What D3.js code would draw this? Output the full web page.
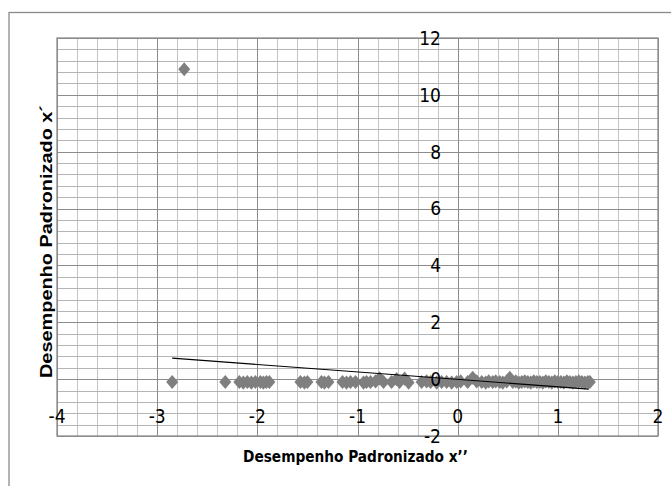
<!DOCTYPE html>
<html>
<head>
<meta charset="utf-8">
<script src="https://cdn.jsdelivr.net/npm/d3@7"></script>
<style>
  body { margin: 0; background: #fff; }
  svg { display: block; }
</style>
</head>
<body>
<div id="chart"></div>
<script>
// x'' (horizontal) and x' (vertical) standardized scores
const scoreX = [
  -2.85, -2.73, -2.32, -2.18, -2.14, -2.10, -2.06, -2.02, -1.97, -1.94, -1.91, -1.88,
  -1.57, -1.53, -1.50, -1.36, -1.33, -1.29, -1.15, -1.11, -1.07, -1.02,
  -0.94, -0.91, -0.87, -0.82, -0.78, -0.74, -0.66, -0.61, -0.58, -0.53, -0.49,
  -0.36, -0.31, -0.27, -0.21, -0.16, -0.11, -0.06, -0.01, 0.03,
  0.10, 0.15, 0.19, 0.24, 0.28, 0.31, 0.35, 0.38, 0.42, 0.45, 0.49, 0.52,
  0.55, 0.58, 0.61, 0.64, 0.67, 0.70, 0.73, 0.76, 0.79, 0.82, 0.85, 0.88,
  0.91, 0.94, 0.97, 1.00, 1.03, 1.06, 1.09, 1.12, 1.15, 1.18, 1.21, 1.24,
  1.27, 1.30, 1.32
];
const scoreY = [
  -0.10, 10.90, -0.10, -0.10, -0.12, -0.10, -0.12, -0.10, -0.10, -0.12, -0.10, -0.10,
  -0.10, -0.12, -0.10, -0.10, -0.12, -0.10, -0.10, -0.12, -0.10, -0.10,
  -0.12, -0.10, -0.10, -0.08, 0.03, -0.10, -0.10, 0.00, -0.10, 0.02, -0.12,
  -0.10, -0.08, -0.10, -0.12, -0.10, -0.10, -0.12, -0.10, -0.08,
  -0.10, 0.05, -0.08, -0.10, -0.12, -0.08, -0.10, -0.08, -0.10, -0.12, -0.08, 0.05,
  -0.10, -0.08, -0.12, -0.10, -0.08, -0.10, -0.12, -0.08, -0.10, -0.10, -0.12, -0.08,
  -0.10, -0.12, -0.08, -0.10, -0.10, -0.12, -0.08, -0.10, -0.12, -0.10, -0.08, -0.10,
  -0.12, -0.10, -0.10
];
// linear trend line end points
const trendX = [-2.85, 1.31];
const trendY = [0.74, -0.35];

const xTicks = [-4, -3, -2, -1, 0, 1, 2];
const yTicks = [-2, 0, 2, 4, 6, 8, 10, 12];
const xTitle = 'Desempenho Padronizado x\u2019\u2019';
const yTitle = 'Desempenho Padronizado x\u00b4';

const W = 671, H = 486;
const tickFont = '"Liberation Sans Narrow", "DejaVu Sans Condensed", sans-serif';

const svg = d3.select('#chart').append('svg')
  .attr('width', W)
  .attr('height', H);

svg.append('rect').attr('width', W).attr('height', H).attr('fill', '#fff');

// outer chart frame
svg.append('rect')
  .attr('x', 9).attr('y', 12.5)
  .attr('width', W + 10).attr('height', H + 10)
  .attr('fill', 'none')
  .attr('stroke', '#8a8a8a')
  .attr('stroke-width', 1.3);

const x = d3.scaleLinear().domain([-4, 2]).range([57, 658]);
const y = d3.scaleLinear().domain([-2, 12]).range([436, 38]);

const minorX = d3.range(0, 31).map(i => -4 + i * 0.2);
const minorY = d3.range(0, 36).map(i => -2 + i * 0.4);

const grid = svg.append('g');
grid.selectAll('.mx')
  .data(minorX)
  .join('line')
  .attr('x1', d => Math.round(x(d)) + 0.5).attr('x2', d => Math.round(x(d)) + 0.5)
  .attr('y1', y(-2)).attr('y2', y(12))
  .attr('stroke', '#c4c4c4');
grid.selectAll('.my')
  .data(minorY)
  .join('line')
  .attr('y1', d => Math.round(y(d)) + 0.5).attr('y2', d => Math.round(y(d)) + 0.5)
  .attr('x1', x(-4)).attr('x2', x(2))
  .attr('stroke', '#b4b4b4');
grid.selectAll('.Mx')
  .data(xTicks)
  .join('line')
  .attr('x1', d => Math.round(x(d)) + 0.5).attr('x2', d => Math.round(x(d)) + 0.5)
  .attr('y1', y(-2)).attr('y2', y(12))
  .attr('stroke', '#8c8c8c');
grid.selectAll('.My')
  .data(yTicks)
  .join('line')
  .attr('y1', d => Math.round(y(d)) + 0.5).attr('y2', d => Math.round(y(d)) + 0.5)
  .attr('x1', x(-4)).attr('x2', x(2))
  .attr('stroke', '#8c8c8c');

// plot area border
svg.append('rect')
  .attr('x', x(-4)).attr('y', y(12))
  .attr('width', x(2) - x(-4)).attr('height', y(-2) - y(12))
  .attr('fill', 'none')
  .attr('stroke', '#8c8c8c')
  .attr('stroke-width', 1.3);

// markers
const points = scoreX.map((v, i) => ({ x: v, y: scoreY[i] }));
const diamond = d3.symbol().type(d3.symbolDiamond2).size(92);
svg.append('g')
  .selectAll('path')
  .data(points)
  .join('path')
  .attr('d', diamond)
  .attr('transform', d => `translate(${x(d.x)},${y(d.y)}) scale(1,1.18)`)
  .attr('fill', '#7f7f7f');

// trend line
svg.append('line')
  .attr('x1', x(trendX[0])).attr('y1', y(trendY[0]))
  .attr('x2', x(trendX[1])).attr('y2', y(trendY[1]))
  .attr('stroke', '#000')
  .attr('stroke-width', 1.1);

// tick labels (axes cross at 0)
svg.append('g')
  .selectAll('text')
  .data(yTicks)
  .join('text')
  .attr('x', 441)
  .attr('y', d => y(d))
  .attr('dy', '0.36em')
  .attr('text-anchor', 'end')
  .attr('font-family', tickFont)
  .attr('font-size', 19)
  .attr('fill', '#000')
  .text(d => String(d));

svg.append('g')
  .selectAll('text')
  .data(xTicks)
  .join('text')
  .attr('x', d => x(d))
  .attr('y', 416)
  .attr('dy', '0.36em')
  .attr('text-anchor', 'middle')
  .attr('font-family', tickFont)
  .attr('font-size', 19)
  .attr('fill', '#000')
  .text(d => String(d));

// axis titles
svg.append('text')
  .attr('x', 243)
  .attr('y', 462)
  .attr('textLength', 225)
  .attr('lengthAdjust', 'spacingAndGlyphs')
  .attr('font-family', tickFont)
  .attr('font-weight', 'bold')
  .attr('font-size', 16)
  .attr('fill', '#000')
  .text(xTitle);

svg.append('text')
  .attr('transform', 'translate(52,378) rotate(-90)')
  .attr('textLength', 273)
  .attr('lengthAdjust', 'spacingAndGlyphs')
  .attr('font-family', 'Arial, "Liberation Sans", sans-serif')
  .attr('font-weight', 'bold')
  .attr('font-size', 17)
  .attr('fill', '#000')
  .text(yTitle);
</script>
</body>
</html>
